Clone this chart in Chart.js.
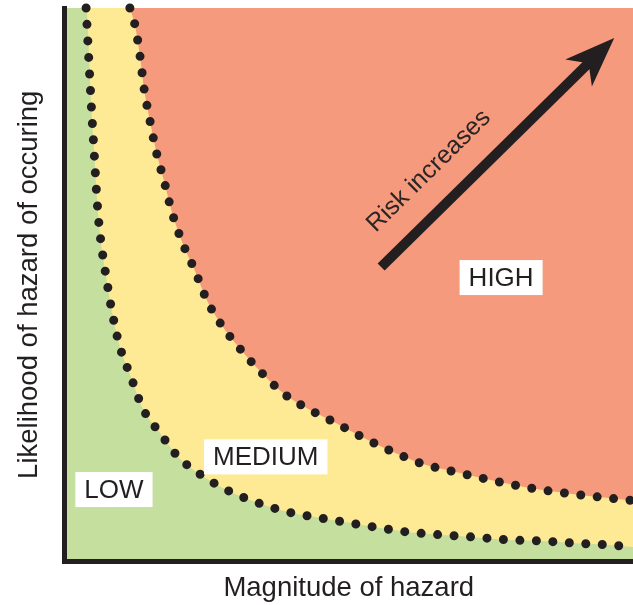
<!DOCTYPE html>
<html>
<head>
<meta charset="utf-8">
<script src="https://cdn.jsdelivr.net/npm/chart.js@4.4.1/dist/chart.umd.min.js"></script>
<style>
  body { margin: 0; background: #fff; }
  canvas { display: block; }
</style>
</head>
<body>
<canvas id="riskChart" width="633" height="605"></canvas>
<script>
"use strict";
// boundary between LOW and MEDIUM (magnitude %, likelihood %)
const lowX = [3.8, 4.7, 5.2, 5.7, 6.1, 6.8, 7.3, 8.2, 9.6, 11.7, 13.8, 16.8, 20.0, 23.8, 28.2, 34.0, 39.5, 44.8, 50.0, 55.3, 60.6, 66.4, 72.2, 78.2, 84.0, 90.0, 95.8, 100];
const lowY = [100, 82.7, 74.2, 65.7, 60.6, 54.8, 51.6, 46.0, 39.3, 33.3, 27.6, 23.2, 18.9, 15.8, 13.1, 10.6, 8.9, 7.9, 7.0, 6.1, 5.3, 4.8, 4.4, 3.9, 3.7, 3.3, 3.0, 2.6];
// boundary between MEDIUM and HIGH
const highX = [11.5, 12.4, 13.3, 14.0, 15.0, 16.1, 17.5, 18.9, 20.7, 22.8, 25.1, 27.5, 30.5, 34.2, 38.6, 42.8, 47.4, 52.5, 57.8, 63.1, 68.2, 73.3, 78.2, 83.5, 89.3, 95.3, 100];
const highY = [100, 96.9, 91.2, 85.4, 79.8, 74.2, 68.8, 63.1, 57.7, 52.9, 47.1, 42.9, 38.9, 34.6, 30.3, 27.6, 25.2, 22.4, 19.8, 17.6, 16.3, 15.1, 14.0, 13.0, 12.2, 11.5, 11.0];

const zoneNames = ["LOW", "MEDIUM", "HIGH"];
const zoneX = [8.7, 35.4, 76.8];
const zoneY = [13.0, 18.9, 51.3];

const arrowFrom = [55.7, 53.2];
const arrowTo = [96.7, 94.6];
const arrowText = "Risk increases";

const ink = "#231f20";
const green = "#c5df9f";
const yellow = "#feea95";
const salmon = "#f59a7c";

const toPts = (xs, ys) => xs.map((x, i) => ({ x: x, y: ys[i] }));
const lowPts = toPts(lowX, lowY);
const highPts = toPts(highX, highY);

const dotted = {
  borderColor: ink,
  borderWidth: 9,
  borderDash: [0, 16.5],
  borderCapStyle: "round",
  pointRadius: 0,
  fill: false,
  clip: false,
  cubicInterpolationMode: "monotone"
};

const overlay = {
  id: "overlay",
  afterDraw(chart) {
    const ctx = chart.ctx;
    const xs = chart.scales.x, ys = chart.scales.y;

    // arrow
    const x1 = xs.getPixelForValue(arrowFrom[0]), y1 = ys.getPixelForValue(arrowFrom[1]);
    const x2 = xs.getPixelForValue(arrowTo[0]), y2 = ys.getPixelForValue(arrowTo[1]);
    const ang = Math.atan2(y2 - y1, x2 - x1);
    const headLen = 50, headW = 19, notch = 36;
    const len = Math.hypot(x2 - x1, y2 - y1);
    ctx.save();
    ctx.translate(x1, y1);
    ctx.rotate(ang);
    ctx.fillStyle = ink;
    ctx.fillRect(0, -5, len - notch + 2, 10);
    ctx.beginPath();
    ctx.moveTo(len, 0);
    ctx.lineTo(len - headLen, -headW);
    ctx.lineTo(len - notch, 0);
    ctx.lineTo(len - headLen, headW);
    ctx.closePath();
    ctx.fill();

    // arrow caption
    ctx.font = "25px 'Liberation Sans', Arial, sans-serif";
    ctx.fillStyle = "#2b2526";
    ctx.textBaseline = "alphabetic";
    ctx.fillText(arrowText, 20, -28);
    ctx.restore();

    // zone labels
    ctx.save();
    ctx.font = "26px 'Liberation Sans', Arial, sans-serif";
    ctx.textAlign = "center";
    ctx.textBaseline = "middle";
    zoneNames.forEach((name, i) => {
      const cx = xs.getPixelForValue(zoneX[i]);
      const cy = ys.getPixelForValue(zoneY[i]);
      const w = ctx.measureText(name).width + 18;
      const h = 35;
      ctx.fillStyle = "#ffffff";
      ctx.fillRect(cx - w / 2, cy - h / 2, w, h);
      ctx.fillStyle = ink;
      ctx.fillText(name, cx, cy + 1);
    });
    ctx.restore();
  }
};

new Chart(document.getElementById("riskChart").getContext("2d"), {
  type: "line",
  data: {
    datasets: [
      Object.assign({ data: lowPts, order: 1 }, dotted),
      Object.assign({ data: highPts, order: 2 }, dotted),
      {
        data: highPts, order: 3, fill: "end", backgroundColor: salmon,
        borderWidth: 0, pointRadius: 0, cubicInterpolationMode: "monotone"
      },
      {
        data: [{ x: 0, y: 100 }].concat(lowPts), order: 4, fill: "start", backgroundColor: green,
        borderWidth: 0, pointRadius: 0, cubicInterpolationMode: "monotone"
      },
      {
        data: [{ x: 0, y: 100 }, { x: 100, y: 100 }], order: 5, fill: "start", backgroundColor: yellow,
        borderWidth: 0, pointRadius: 0
      }
    ]
  },
  options: {
    responsive: false,
    animation: false,
    layout: { padding: { top: 8, right: 0, left: 0, bottom: 0 } },
    plugins: { legend: { display: false }, tooltip: { enabled: false } },
    scales: {
      x: {
        type: "linear", min: 0, max: 100,
        grid: { display: false },
        ticks: { display: false },
        border: { display: true, color: ink, width: 5, z: 1 },
        title: {
          display: true, text: "Magnitude of hazard", color: ink,
          font: { family: "'Liberation Sans', Arial, sans-serif", size: 27.5 },
          padding: { top: 0, bottom: 0 }
        },
        afterFit(scale) { scale.height = 43.5; }
      },
      y: {
        type: "linear", min: 0, max: 100,
        grid: { display: false },
        ticks: { display: false },
        border: { display: true, color: ink, width: 5, z: 1 },
        title: {
          display: true, text: "Likelihood of hazard of occuring", color: ink,
          font: { family: "'Liberation Sans', Arial, sans-serif", size: 27.5 },
          padding: { top: 13, bottom: 0 }
        },
        afterFit(scale) { scale.width = 64.5; }
      }
    }
  },
  plugins: [overlay]
});
</script>
</body>
</html>
